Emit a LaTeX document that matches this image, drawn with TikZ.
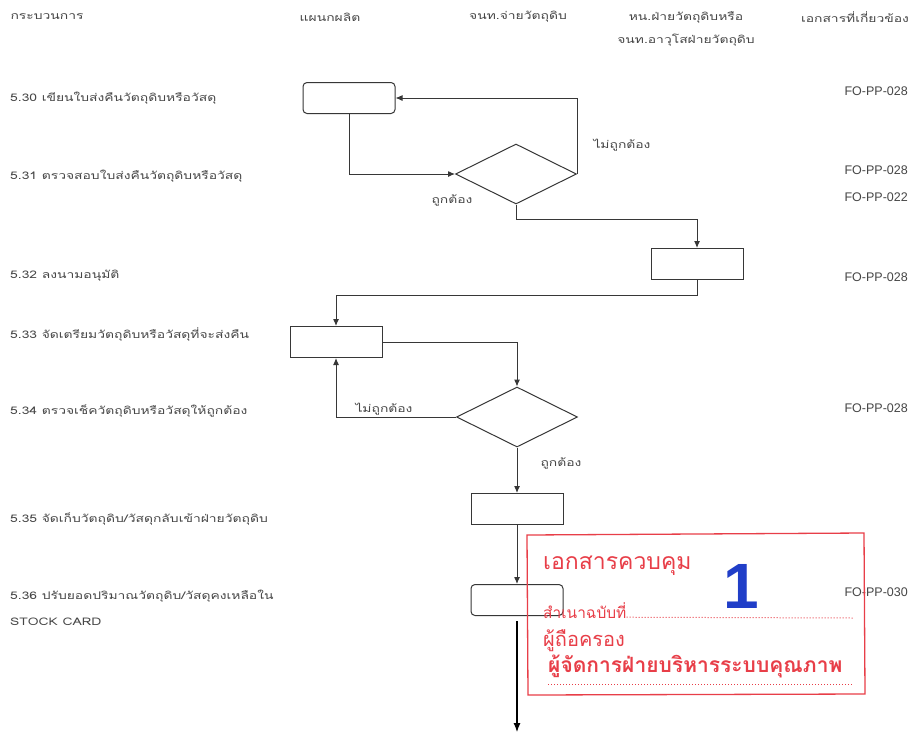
\documentclass[tikz,border=0pt]{standalone}
\usepackage{fontspec}
\setmainfont{Liberation Sans}
\newfontfamily\thai[Script=Thai, FakeStretch=1.32]{Loma}
\newfontfamily\thaistamp[Script=Thai]{Loma}
\usetikzlibrary{shapes.geometric,arrows.meta}
\definecolor{ink}{RGB}{55,55,55}
\definecolor{txt}{RGB}{70,70,70}
\definecolor{stampred}{RGB}{232,62,72}
\definecolor{stampblue}{RGB}{32,62,200}
\tikzset{
  proc/.style={draw=ink, line width=1pt, minimum width=92pt, minimum height=31pt, inner sep=0pt},
  rproc/.style={proc, rounded corners=4pt},
  decide/.style={draw=ink, line width=1pt, diamond, minimum width=121pt, minimum height=60pt, inner sep=0pt},
  flow/.style={draw=ink, line width=1pt, -{Latex[length=7pt,width=6pt]}},
  exitflow/.style={draw=black, line width=1.1pt, -{Latex[length=9pt,width=7pt]}},
  head/.style={text=txt, font=\thai\fontsize{10.5}{23}\selectfont, align=center, inner sep=0pt},
  steplabel/.style={text=txt, font=\thai\fontsize{10.5}{20}\selectfont, anchor=west, align=left, inner sep=0pt},
  cond/.style={text=txt, font=\thai\fontsize{10.5}{12}\selectfont, inner sep=0pt},
  docref/.style={text=txt, font=\fontsize{12.5}{14}\selectfont, anchor=east, inner sep=0pt},
  stamptext/.style={text=stampred, font=\thaistamp\fontsize{23}{25}\selectfont, anchor=west, inner sep=0pt},
}
\begin{document}
\begin{tikzpicture}[x=1pt,y=-1pt]
\useasboundingbox[fill=white] (0,0) rectangle (915,734);

% column headings
\node[head] (h1) at (47,17) {กระบวนการ};
\node[head] (h2) at (330,17) {แผนกผลิต};
\node[head] (h3) at (518,17) {จนท.จ่ายวัตถุดิบ};
\node[head] (h4) at (686,29) {หน.ฝ่ายวัตถุดิบหรือ\\จนท.อาวุโสฝ่ายวัตถุดิบ};
\node[head] (h5) at (855,17) {เอกสารที่เกี่ยวข้อง};

% process steps
\node[steplabel] (s30) at (10,98) {5.30 เขียนใบส่งคืนวัตถุดิบหรือวัสดุ};
\node[steplabel] (s31) at (10,176) {5.31 ตรวจสอบใบส่งคืนวัตถุดิบหรือวัสดุ};
\node[steplabel] (s32) at (10,276) {5.32 ลงนามอนุมัติ};
\node[steplabel] (s33) at (10,334) {5.33 จัดเตรียมวัตถุดิบหรือวัสดุที่จะส่งคืน};
\node[steplabel] (s34) at (10,411) {5.34 ตรวจเช็ควัตถุดิบหรือวัสดุให้ถูกต้อง};
\node[steplabel] (s35) at (10,519) {5.35 จัดเก็บวัตถุดิบ/วัสดุกลับเข้าฝ่ายวัตถุดิบ};
\node[steplabel] (s36) at (10,596) {5.36 ปรับยอดปริมาณวัตถุดิบ/วัสดุคงเหลือใน};
\node[steplabel] (s36b) at (10,622) {STOCK CARD};

% related documents
\node[docref] (d30) at (908,91) {FO-PP-028};
\node[docref] (d31a) at (908,170) {FO-PP-028};
\node[docref] (d31b) at (908,197) {FO-PP-022};
\node[docref] (d32) at (908,277) {FO-PP-028};
\node[docref] (d34) at (908,408) {FO-PP-028};
\node[docref] (d36) at (908,592) {FO-PP-030};

% flowchart symbols
\node[rproc] (A) at (349,98) {};
\node[decide] (D1) at (516,174) {};
\node[proc] (B) at (697,264) {};
\node[proc] (C) at (336,342) {};
\node[decide] (D2) at (517,417) {};
\node[proc] (E) at (517,509) {};
\node[rproc] (F) at (517,600) {};
\coordinate (fin) at (517,732);

% connectors
\draw[flow] (A.south) |- (D1.west);
\draw[flow] (D1.east) |- (A.east);
\draw[flow] (D1.south) -- ++(0,15) -| (B.north);
\draw[flow] (B.south) -- ++(0,15) -| (C.north);
\draw[flow] (C.east) -| (D2.north);
\draw[flow] (D2.west) -| (C.south);
\draw[flow] (D2.south) -- (E.north);
\draw[flow] (E.south) -- (F.north);
\draw[exitflow] ([yshift=-5pt]F.south) -- (fin);

% decision outcomes
\node[cond] (n1) at (622,145) {ไม่ถูกต้อง};
\node[cond] (y1) at (452,200) {ถูกต้อง};
\node[cond] (n2) at (384,409) {ไม่ถูกต้อง};
\node[cond] (y2) at (561,463) {ถูกต้อง};

% control stamp
\draw[stampred, line width=1.3pt] (527,535) -- (864,533) -- (865,694) -- (528,695) -- cycle;
\node[stamptext] (st1) at (543,566) {เอกสารควบคุม};
\node[text=stampblue, font=\bfseries\fontsize{64}{64}\selectfont, inner sep=0pt] (st2) at (741,586) {1};
\node[stamptext, font=\thaistamp\fontsize{15.5}{18}\selectfont] (st3) at (543,611) {สำเนาฉบับที่};
\node[stamptext, font=\thaistamp\fontsize{20}{22}\selectfont] (st4) at (543,641) {ผู้ถือครอง};
\node[stamptext, font=\thaistamp\bfseries\fontsize{21}{23}\selectfont] (st5) at (548,666) {ผู้จัดการฝ่ายบริหารระบบคุณภาพ};
\draw[stampred, line width=1pt, dotted] (st3.south east) ++(0,-2) -- (853,618);
\draw[stampred, line width=1pt, dotted] (548,684) -- (853,684);
\end{tikzpicture}
\end{document}
